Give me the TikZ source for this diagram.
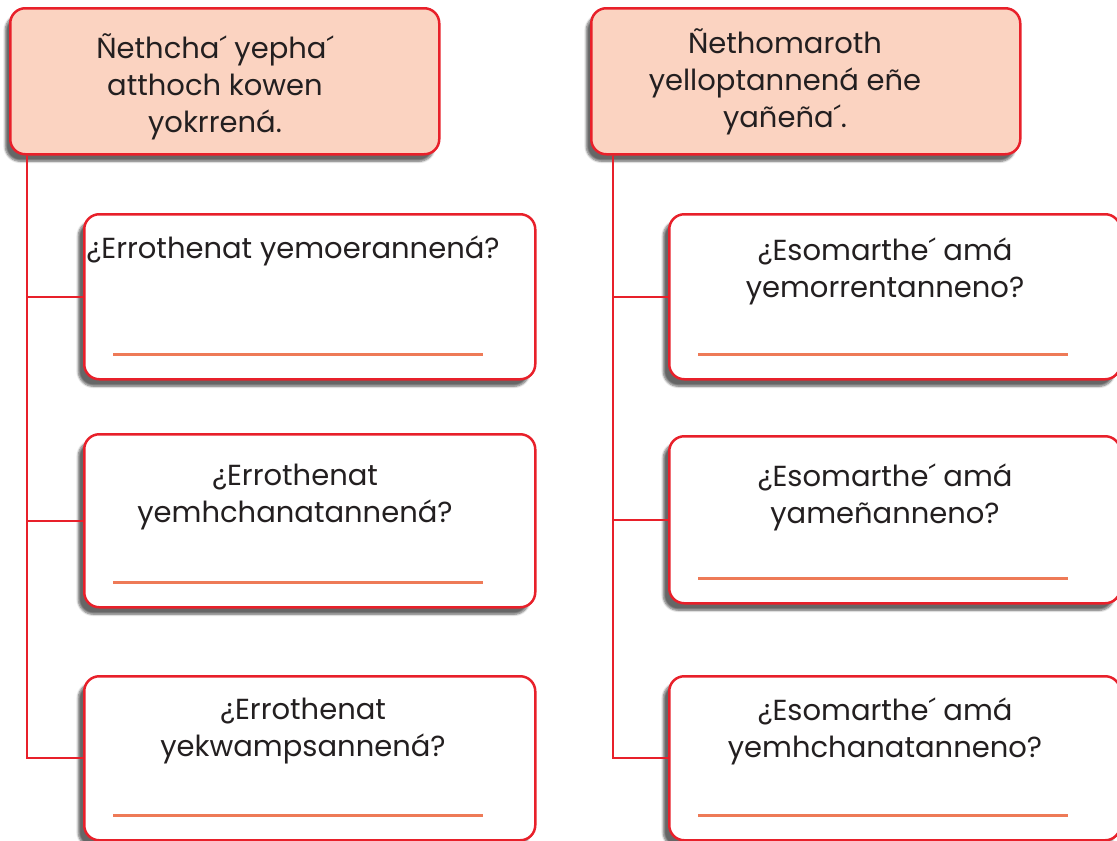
\documentclass[tikz,border=0pt]{standalone}
\usepackage{fontspec}
\setmainfont{Poppins}
\usetikzlibrary{shadows.blur,positioning}

\definecolor{boxred}{HTML}{E8202A}
\definecolor{headfill}{HTML}{FBD3C1}
\definecolor{lineorange}{HTML}{EE7A57}
\definecolor{inkgray}{HTML}{231F20}

\tikzset{
  headbox/.style={draw=boxred, line width=2.5pt, fill=headfill, rounded corners=15pt,
    anchor=north west, minimum width=429pt, minimum height=146pt,
    blur shadow={shadow xshift=-5pt, shadow yshift=-7pt, shadow blur steps=6, shadow opacity=60}},
  qbox/.style={draw=boxred, line width=2.5pt, fill=white, rounded corners=15pt,
    anchor=north west, minimum width=451pt,
    blur shadow={shadow xshift=-6pt, shadow yshift=-7pt, shadow blur steps=6, shadow opacity=60}},
  qtext/.style={text=inkgray, align=center, inner sep=0pt, font=\fontsize{29}{37}\selectfont},
  link/.style={draw=boxred, line width=2.2pt},
  answer/.style={draw=lineorange, line width=2.5pt}
}

\begin{document}
\begin{tikzpicture}[x=1pt, y=-1pt]
        \useasboundingbox (0,0) rectangle (1117,841);

        % Header boxes
        \node[headbox] (lh) at (9,7) {};
        \node[headbox] (rh) at (590,7) {};
        \node[qtext] (lhtxt) at (215,87) {Ñethcha´ yepha´\\atthoch kowen\\yokrrená.};
        \node[qtext] (rhtxt) at (785,82) {Ñethomaroth\\yelloptannená eñe\\yañeña´.};

        % Question boxes, left column
        \node[qbox, minimum height=165pt] (lb1) at (83,213) {};
        \node[qbox, minimum height=173pt] (lb2) at (83,433) {};
        \node[qbox, minimum height=164pt] (lb3) at (83,675) {};

        % Question boxes, right column
        \node[qbox, minimum height=165pt] (rb1) at (668,213) {};
        \node[qbox, minimum height=167pt] (rb2) at (668,435) {};
        \node[qbox, minimum height=164pt] (rb3) at (668,675) {};

        % Questions
        \node[qtext] (lq1) at (293,251) {¿Errothenat yemoerannená?};
        \node[qtext] (lq2) at (295,497) {¿Errothenat\\yemhchanatannená?};
        \node[qtext] (lq3) at (303,731) {¿Errothenat\\yekwampsannená?};
        \node[qtext] (rq1) at (885,271) {¿Esomarthe´ amá\\yemorrentanneno?};
        \node[qtext] (rq2) at (885,497) {¿Esomarthe´ amá\\yameñanneno?};
        \node[qtext] (rq3) at (885,731) {¿Esomarthe´ amá\\yemhchanatanneno?};

        % Answer lines
        \foreach \b in {lb1,lb2,lb3,rb1,rb2,rb3}
          \draw[answer] ([xshift=30pt,yshift=26pt]\b.south west) -- ([xshift=-54pt,yshift=26pt]\b.south east);

        % Connectors
        \coordinate (lspine) at ([xshift=18pt]lh.south west);
        \coordinate (rspine) at ([xshift=23pt]rh.south west);
        \foreach \b in {lb1,lb2,lb3}
          \draw[link] (lspine) |- (\b.west);
        \foreach \b in {rb1,rb2,rb3}
          \draw[link] (rspine) |- (\b.west);

    \end{tikzpicture}
\end{document}
